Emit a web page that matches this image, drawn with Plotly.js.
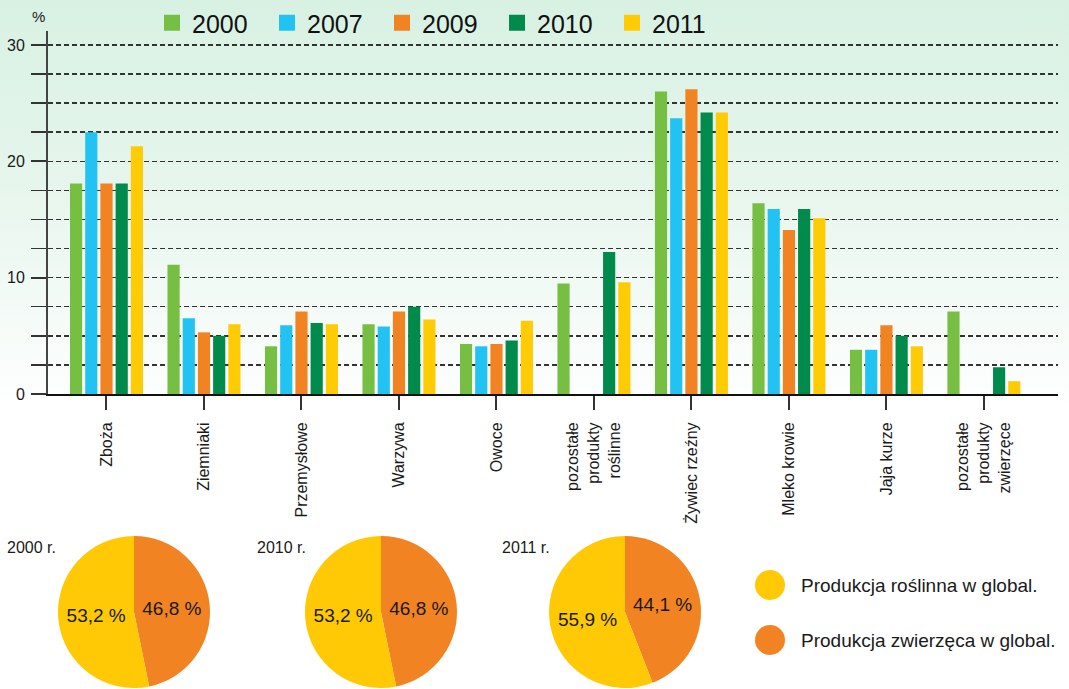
<!DOCTYPE html>
<html>
<head>
<meta charset="utf-8">
<script src="https://cdn.plot.ly/plotly-3.0.1.min.js"></script>
<style>
  html, body { margin: 0; padding: 0; }
  body { width: 1069px; height: 689px; overflow: hidden;
    background: linear-gradient(to bottom, #d8f1e3 0px, #e4f5eb 160px, #f3faf6 300px, #ffffff 420px, #ffffff 100%); }
  #chart { width: 1069px; height: 689px; }
</style>
</head>
<body>
<div id="chart"></div>
<script>
// ---- data ----
const categories = ['Zboża', 'Ziemniaki', 'Przemysłowe', 'Warzywa', 'Owoce',
  'pozostałe<br>produkty<br>roślinne', 'Żywiec rzeźny', 'Mleko krowie', 'Jaja kurze',
  'pozostałe<br>produkty<br>zwierzęce'];
const years = ['2000', '2007', '2009', '2010', '2011'];
const v2000 = [18.1, 11.1, 4.1, 6.0, 4.3, 9.5, 26.0, 16.4, 3.8, 7.1];
const v2007 = [22.5, 6.5, 5.9, 5.8, 4.1, null, 23.7, 15.9, 3.8, null];
const v2009 = [18.1, 5.3, 7.1, 7.1, 4.3, null, 26.2, 14.1, 5.9, null];
const v2010 = [18.1, 5.0, 6.1, 7.5, 4.6, 12.2, 24.2, 15.9, 5.0, 2.3];
const v2011 = [21.3, 6.0, 6.0, 6.4, 6.3, 9.6, 24.2, 15.1, 4.1, 1.1];
const yTickVals = [0, 10, 20, 30];

const pieTitles = ['2000 r.', '2010 r.', '2011 r.'];
const pieLabels = ['Produkcja zwierzęca w global.', 'Produkcja roślinna w global.'];
const animalShare = [46.8, 46.8, 44.1];
const plantShare = [53.2, 53.2, 55.9];

// ---- styles ----
const W = 1069, H = 689;
const px = x => x / W;
const py = y => (H - y) / H;
const barColors = ['#76bf43', '#22c3f3', '#f28322', '#008a4b', '#ffcb05'];
const pieColors = ['#f28322', '#ffc905'];
const FONT = '"Liberation Sans", Arial, sans-serif';
const series = [v2000, v2007, v2009, v2010, v2011];

const traces = [];
series.forEach((vals, i) => {
  traces.push({
    type: 'bar', x: categories, y: vals, name: years[i],
    marker: { color: barColors[i] }, showlegend: false,
    xaxis: 'x', yaxis: 'y', hoverinfo: 'x+y'
  });
});
// legend entries (square markers)
years.forEach((yr, i) => {
  traces.push({
    type: 'scatter', mode: 'markers', x: [null], y: [null], name: yr,
    marker: { symbol: 'square', size: 16, color: barColors[i] },
    xaxis: 'x', yaxis: 'y', showlegend: true
  });
});

const pieDomainsX = [[px(58), px(210)], [px(305), px(457)], [px(549), px(701)]];
pieTitles.forEach((t, i) => {
  const vals = [animalShare[i], plantShare[i]];
  traces.push({
    type: 'pie', values: vals, labels: pieLabels,
    text: vals.map(v => v.toFixed(1).replace('.', ',') + ' %'),
    textinfo: 'text', textposition: 'inside', insidetextorientation: 'horizontal',
    textfont: { size: 19, color: '#1a1a1a', family: FONT },
    sort: false, direction: 'clockwise', rotation: 0,
    marker: { colors: pieColors, line: { width: 0 } },
    domain: { x: pieDomainsX[i], y: [py(688), py(536)] },
    showlegend: false, hoverinfo: 'label+percent'
  });
});

const annotations = [
  { text: '%', x: px(38), y: py(17), xref: 'paper', yref: 'paper', showarrow: false,
    xanchor: 'center', yanchor: 'middle',
    font: { size: 15, color: '#1a1a1a', family: FONT } }
];
const titleX = [5, 255, 500];
pieTitles.forEach((t, i) => {
  annotations.push({ text: t, x: px(titleX[i]), y: py(547), xref: 'paper', yref: 'paper',
    xanchor: 'left', yanchor: 'middle', showarrow: false,
    font: { size: 16, color: '#1a1a1a', family: FONT } });
});
const legCY = [585, 640];
const legTexts = ['Produkcja roślinna w global.', 'Produkcja zwierzęca w global.'];
const legColors = ['#ffc905', '#f28322'];
const shapes = [];
legCY.forEach((cy, i) => {
  shapes.push({ type: 'circle', xref: 'paper', yref: 'paper',
    x0: px(755), x1: px(785), y0: py(cy + 15), y1: py(cy - 15),
    fillcolor: legColors[i], line: { width: 0 } });
  annotations.push({ text: legTexts[i], x: px(799), y: py(cy), xref: 'paper', yref: 'paper',
    xanchor: 'left', yanchor: 'middle', showarrow: false,
    font: { size: 19, color: '#1a1a1a', family: FONT } });
});

const layout = {
  width: W, height: H,
  margin: { l: 0, r: 0, t: 0, b: 0, autoexpand: false },
  paper_bgcolor: 'rgba(0,0,0,0)', plot_bgcolor: 'rgba(0,0,0,0)',
  font: { family: FONT, color: '#1a1a1a' },
  barmode: 'group', bargap: 0.22, bargroupgap: 0.2,
  showlegend: true,
  legend: { orientation: 'h', x: px(152), xanchor: 'left', y: py(0), yanchor: 'top',
    font: { size: 25, color: '#111', family: FONT }, entrywidth: 70, entrywidthmode: 'pixels',
    bgcolor: 'rgba(0,0,0,0)', itemclick: false, itemdoubleclick: false, tracegroupgap: 0 },
  xaxis: {
    domain: [px(48), px(1058)], anchor: 'y', type: 'category',
    range: [-0.6, 9.76], showline: true, linecolor: '#111', linewidth: 2,
    ticks: 'outside', ticklen: 14, tickwidth: 2, tickcolor: '#333',
    tickangle: -90, tickfont: { size: 16, color: '#1a1a1a', family: FONT },
    ticklabelstandoff: 6, showgrid: false, zeroline: false, fixedrange: true
  },
  yaxis: {
    domain: [py(394), py(31)], anchor: 'x', range: [0, 31.2],
    tickvals: yTickVals, ticks: 'outside', ticklen: 15, tickwidth: 2, tickcolor: '#333',
    tickfont: { size: 16, color: '#1a1a1a', family: FONT }, ticklabelstandoff: 3,
    showline: true, linecolor: '#444', linewidth: 2,
    showgrid: true, gridcolor: '#333', gridwidth: 1.5, griddash: '5px,3px',
    minor: { dtick: 2.5, ticks: 'outside', ticklen: 15, tickwidth: 1.5, tickcolor: '#333',
      showgrid: true, gridcolor: '#333', gridwidth: 1.5, griddash: '5px,3px' },
    zeroline: false, fixedrange: true
  },
  annotations: annotations,
  shapes: shapes
};

Plotly.newPlot('chart', traces, layout, { displayModeBar: false, staticPlot: true });
</script>
</body>
</html>
